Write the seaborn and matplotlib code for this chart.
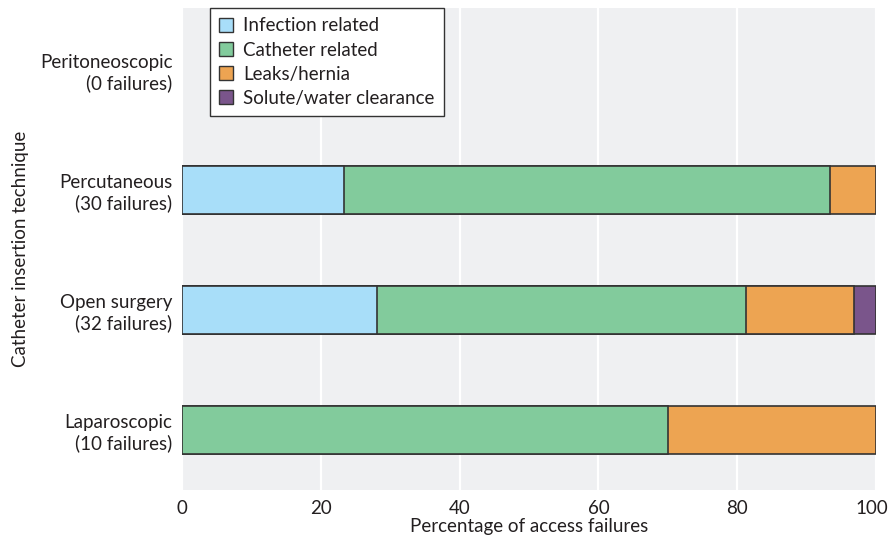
import numpy as np
import pandas as pd
import matplotlib
matplotlib.use("Agg")
import matplotlib.pyplot as plt
import matplotlib.transforms as mtransforms
from matplotlib.patches import Patch
import seaborn as sns

# data (percent of access failures)
techniques = ["Peritoneoscopic\n(0 failures)", "Percutaneous\n(30 failures)",
              "Open surgery\n(32 failures)", "Laparoscopic\n(10 failures)"]
causes = ["Infection related", "Catheter related", "Leaks/hernia", "Solute/water clearance"]
infection = [0, 23.3, 28.1, 0]
catheter = [0, 70.0, 53.1, 70.0]
leaks = [0, 6.7, 15.6, 30.0]
solute = [0, 0, 3.2, 0]
colors = ["#A8DEF9", "#82CB9C", "#EDA452", "#7A558B"]

df = pd.DataFrame({"technique": techniques, causes[0]: infection, causes[1]: catheter,
                   causes[2]: leaks, causes[3]: solute})
cum = df[causes].cumsum(axis=1)
cum = cum.where(df[causes] > 0)

sns.set_style("white")
plt.rcParams["font.family"] = ["Lato", "DejaVu Sans"]
txt = "#231F20"
fs = 13.5

fig = plt.figure(figsize=(8.89, 5.41), dpi=100)
ax = fig.add_axes([0.2047, 0.0943, 0.7807, 0.8907])
ax.set_facecolor("#EFF0F2")

# stacked bars: draw cumulative totals, widest first
for cause, col in reversed(list(zip(causes, colors))):
    sns.barplot(x=cum[cause], y=df["technique"], color=col, saturation=1,
                orient="h", width=0.4, edgecolor="#333333", linewidth=1.2, ax=ax,
                order=techniques)

ax.set_xlim(0, 100)
ax.set_ylim(3.5, -0.52)
ax.set_xticks([0, 20, 40, 60, 80, 100])
ax.set_xticklabels(["0", "20", "40", "60", "80", "100"])
ax.grid(axis="x", color="white", linewidth=1.6)
ax.set_axisbelow(True)
for s in ax.spines.values():
    s.set_visible(False)

ax.set_yticks([0.5, 1.5, 2.5, 3.5], minor=True)
ax.tick_params(axis="y", which="major", length=0, pad=7, labelsize=fs, labelcolor=txt)
ax.tick_params(axis="y", which="minor", direction="in", length=9, width=2, color="white")
ax.tick_params(axis="x", length=0, pad=7, labelsize=fs, labelcolor=txt)
last = ax.get_xticklabels()[-1]
last.set_horizontalalignment("right")
last.set_transform(last.get_transform() + mtransforms.ScaledTranslation(0.12, 0, fig.dpi_scale_trans))

ax.set_xlabel("Percentage of access failures", fontsize=fs, color=txt, labelpad=1)
ax.set_ylabel("Catheter insertion technique", fontsize=fs, color=txt, labelpad=8)

handles = [Patch(facecolor=c, edgecolor="#333333", label=l) for c, l in zip(colors, causes)]
leg = ax.legend(handles=handles, loc="upper left", bbox_to_anchor=(0.04, 1.0),
                frameon=True, fancybox=False, framealpha=1, edgecolor="#333333",
                fontsize=fs, handlelength=0.75, handleheight=0.75, handletextpad=0.55,
                labelspacing=0.38, borderpad=0.5, borderaxespad=0)
leg.get_frame().set_linewidth(1.0)
for t in leg.get_texts():
    t.set_color(txt)

fig.savefig("out.png", dpi=100)
